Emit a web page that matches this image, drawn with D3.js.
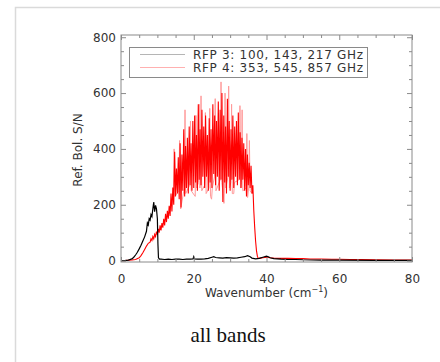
<!DOCTYPE html>
<html>
<head>
<meta charset="utf-8">
<script src="https://cdn.jsdelivr.net/npm/d3@7"></script>
<style>
  body { margin: 0; background: #fff; }
  svg { display: block; }
</style>
</head>
<body>
<svg width="440" height="362"></svg>
<script>
// RFP 3 (100, 143, 217 GHz) - black curve
var rfp3Wn  = [0, 1, 2, 3, 3.5, 4, 4.5, 5, 5.5, 6, 6.5, 7, 7.25, 7.5, 7.75, 8, 8.25, 8.5, 8.75, 9, 9.25, 9.5, 9.75, 10, 10.15, 10.3, 10.6, 11, 12, 13, 14, 15, 16, 17, 18, 19, 19.8, 20, 20.2, 21, 22, 23, 24, 25, 25.5, 26, 27, 28, 29, 30, 31, 32, 33, 34, 34.8, 35.5, 36, 37, 38, 39, 40, 40.5, 41, 42, 44, 46, 48, 50, 55, 60, 70, 80];
var rfp3Val = [0, 0, 2, 6, 12, 20, 30, 42, 55, 70, 85, 105, 135, 128, 150, 145, 165, 158, 185, 210, 175, 198, 185, 150, 60, 10, 5, 5, 4, 5, 4, 5, 5, 4, 5, 5, 6, 14, 6, 5, 5, 6, 8, 12, 14, 11, 10, 9, 11, 10, 9, 10, 12, 14, 18, 14, 9, 6, 8, 12, 16, 14, 10, 7, 5, 4, 4, 3, 2, 2, 1, 1];

// RFP 4 (353, 545, 857 GHz) - red curve
var rfp4Wn = [0, 1, 2, 3, 4, 5, 5.5, 6, 6.5, 7, 7.5,
  8, 8.25, 8.5, 8.75, 9, 9.25, 9.5, 9.75, 10, 10.25, 10.5, 10.75, 11, 11.25, 11.5, 11.75,
  12, 12.25, 12.5, 12.75, 13, 13.25, 13.5, 13.75, 14, 14.25, 14.5, 14.75, 15, 15.25, 15.5, 15.75,
  16, 16.25, 16.5, 16.75, 17, 17.25, 17.5, 17.75, 18, 18.25, 18.5, 18.75, 19, 19.25, 19.5, 19.75,
  20, 20.25, 20.5, 20.75, 21, 21.25, 21.5, 21.75, 22, 22.25, 22.5, 22.75, 23, 23.25, 23.5, 23.75,
  24, 24.25, 24.5, 24.75, 25, 25.25, 25.5, 25.75, 26, 26.25, 26.5, 26.75, 27, 27.25, 27.5, 27.75,
  28, 28.25, 28.5, 28.75, 29, 29.25, 29.5, 29.75, 30, 30.25, 30.5, 30.75, 31, 31.25, 31.5, 31.75,
  32, 32.25, 32.5, 32.75, 33, 33.25, 33.5, 33.75, 34, 34.25, 34.5, 34.75, 35, 35.25, 35.5, 35.75,
  36, 36.25, 36.5, 36.75, 37, 37.25, 37.5, 37.75,
  38, 39, 40, 41, 42, 44, 46, 48, 50, 52, 55, 58, 60, 63, 66, 70, 75, 80];
var rfp4Val = [0, 0, 1, 2, 4, 10, 18, 28, 40, 52, 62,
  66, 78, 72, 86, 78, 94, 86, 104, 92, 114, 100, 126, 108, 134, 118, 150,
  126, 168, 138, 178, 150, 196, 160, 240, 176, 262, 200, 390, 230, 330, 240, 370,
  220, 420, 190, 380, 250, 470, 230, 410, 260, 440, 240, 480, 270, 420, 250, 500,
  260, 520, 280, 450, 250, 560, 290, 470, 270, 540, 300, 480, 260, 520, 300, 450,
  250, 510, 280, 470, 260, 560, 310, 520, 270, 500, 300, 570, 250, 540, 290, 600,
  210, 520, 280, 480, 240, 580, 300, 500, 250, 470, 290, 520, 260, 480, 300, 500,
  270, 530, 290, 460, 260, 440, 290, 420, 250, 400, 230, 380, 270, 350, 260, 340,
  240, 270, 180, 120, 70, 35, 15, 8,
  8, 10, 12, 10, 9, 8, 8, 7, 7, 6, 6, 5, 5, 4, 4, 3, 2, 2];

// thin RFP 4 spikes (rendered lighter)
var spikeWn  = [14.4, 14.6, 14.8, 15.9, 16.1, 16.4, 17.4, 17.6, 17.8, 18.9, 19.1, 19.3, 20.4, 20.6, 20.8, 21.3, 21.5, 21.7, 21.9, 22.0, 22.2, 23.0, 23.2, 23.4, 24.2, 24.4, 24.6, 24.9, 25.1, 25.7, 25.9, 26.1, 27.3, 27.5, 27.7, 28.1, 28.3, 28.5, 28.6, 28.8, 29.4, 29.6, 29.8, 30.2, 30.4, 30.6, 31.0, 31.2, 32.5, 32.7, 32.9, 33.1, 33.3, 33.5, 34.4, 34.6, 34.8, 35.1, 35.3, 35.5, 36.0];
var spikeVal = [240, 400, 230, 250, 430, 185, 260, 540, 240, 270, 500, 250, 230, 520, 260, 280, 560, 260, 300, 590, 250, 270, 530, 240, 260, 545, 230, 220, 260, 300, 580, 250, 290, 640, 280, 240, 205, 290, 600, 260, 300, 625, 260, 280, 560, 240, 240, 280, 290, 555, 260, 280, 540, 250, 260, 455, 226, 260, 430, 250, 240];

var xMajor = [0, 20, 40, 60, 80];
var yMajor = [0, 200, 400, 600, 800];
var legendLabels = ["RFP 3: 100, 143, 217 GHz", "RFP 4: 353, 545, 857 GHz"];

var svg = d3.select("svg");
var pLeft = 121, pRight = 412, pTop = 35, pBottom = 262;
var axisCol = "#8a8a8a", textCol = "#333";
var font = "DejaVu Sans, sans-serif";

// outer figure border
svg.append("path")
  .attr("d", "M15.5,362 V7.5 H440")
  .attr("fill", "none")
  .attr("stroke", "#dadada")
  .attr("stroke-width", 1.5);

var x = d3.scaleLinear().domain([0, 80]).range([pLeft, pRight]);
var y = d3.scaleLinear().domain([-5, 808]).range([pBottom, pTop]);

var xMinor = d3.range(0, 81, 5).filter(function (d) { return d % 20 != 0; });
var yMinor = d3.range(0, 801, 50).filter(function (d) { return d % 200 != 0; });

// data
var line = d3.line()
  .x(function (d) { return x(d[0]); })
  .y(function (d) { return y(d[1]); });

function pairs(a, b) { return a.map(function (v, i) { return [v, b[i]]; }); }

svg.append("path")
  .datum(pairs(spikeWn, spikeVal))
  .attr("d", line)
  .attr("fill", "none")
  .attr("stroke", "#ff9a9a")
  .attr("stroke-width", 1);

svg.append("path")
  .datum(pairs(rfp4Wn, rfp4Val))
  .attr("d", line)
  .attr("fill", "none")
  .attr("stroke", "#ff0000")
  .attr("stroke-width", 1.1);

svg.append("path")
  .datum(pairs(rfp3Wn, rfp3Val))
  .attr("d", line)
  .attr("fill", "none")
  .attr("stroke", "#000")
  .attr("stroke-width", 1.2);

// axes (inward ticks, mirrored on top/right)
function styleAxis(g) {
  g.select(".domain").remove();
  g.selectAll("line").attr("stroke", axisCol);
  g.selectAll("text").attr("fill", textCol).style("font-family", font).style("font-size", "12px");
}

svg.append("g").attr("transform", "translate(0," + pBottom + ")")
  .call(d3.axisBottom(x).tickValues(xMajor).tickSizeInner(-5).tickSizeOuter(0).tickPadding(12).tickFormat(d3.format("d")))
  .call(styleAxis);
svg.append("g").attr("transform", "translate(0," + pBottom + ")")
  .call(d3.axisBottom(x).tickValues(xMinor).tickSize(-3).tickFormat(""))
  .call(styleAxis);
svg.append("g").attr("transform", "translate(0," + pTop + ")")
  .call(d3.axisTop(x).tickValues(xMajor).tickSize(-5).tickFormat(""))
  .call(styleAxis);
svg.append("g").attr("transform", "translate(0," + pTop + ")")
  .call(d3.axisTop(x).tickValues(xMinor).tickSize(-3).tickFormat(""))
  .call(styleAxis);

svg.append("g").attr("transform", "translate(" + pLeft + ",0)")
  .call(d3.axisLeft(y).tickValues(yMajor).tickSizeInner(-5).tickSizeOuter(0).tickPadding(5).tickFormat(d3.format("d")))
  .call(styleAxis);
svg.append("g").attr("transform", "translate(" + pLeft + ",0)")
  .call(d3.axisLeft(y).tickValues(yMinor).tickSize(-3).tickFormat(""))
  .call(styleAxis);
svg.append("g").attr("transform", "translate(" + pRight + ",0)")
  .call(d3.axisRight(y).tickValues(yMajor).tickSize(-5).tickFormat(""))
  .call(styleAxis);
svg.append("g").attr("transform", "translate(" + pRight + ",0)")
  .call(d3.axisRight(y).tickValues(yMinor).tickSize(-3).tickFormat(""))
  .call(styleAxis);

// frame
svg.append("rect")
  .attr("x", pLeft).attr("y", pTop)
  .attr("width", pRight - pLeft).attr("height", pBottom - pTop)
  .attr("fill", "none")
  .attr("stroke", axisCol)
  .attr("stroke-width", 1);

// axis titles
var xt = svg.append("text")
  .attr("x", (pLeft + pRight) / 2).attr("y", 297)
  .attr("text-anchor", "middle")
  .attr("fill", textCol)
  .style("font-family", font).style("font-size", "12px");
xt.append("tspan").text("Wavenumber (cm");
xt.append("tspan").attr("dy", -5).style("font-size", "8px").text("\u22121");
xt.append("tspan").attr("dy", 5).text(")");

svg.append("text")
  .attr("transform", "translate(82,150) rotate(-90)")
  .attr("text-anchor", "middle")
  .attr("fill", textCol)
  .style("font-family", font).style("font-size", "12px")
  .text("Ref. Bol. S/N");

// legend
var lg = svg.append("g");
lg.append("rect")
  .attr("x", 129.5).attr("y", 47.5).attr("width", 238).attr("height", 30)
  .attr("fill", "#fff").attr("stroke", axisCol);
var legendCols = ["#b5b5b5", "#ffb0b0"];
legendLabels.forEach(function (t, i) {
  var yy = 54.5 + i * 13;
  lg.append("line").attr("x1", 140).attr("x2", 185).attr("y1", yy).attr("y2", yy)
    .attr("stroke", legendCols[i]).attr("stroke-width", 1.2);
  lg.append("text").attr("x", 193).attr("y", yy + 4.3)
    .attr("fill", textCol)
    .attr("textLength", 170).attr("lengthAdjust", "spacing")
    .style("font-family", font).style("font-size", "12px")
    .text(t);
});

// caption
svg.append("text")
  .attr("x", 228).attr("y", 342)
  .attr("text-anchor", "middle")
  .attr("fill", "#111")
  .style("font-family", "Liberation Serif, serif").style("font-size", "21px")
  .text("all bands");
</script>
</body>
</html>
